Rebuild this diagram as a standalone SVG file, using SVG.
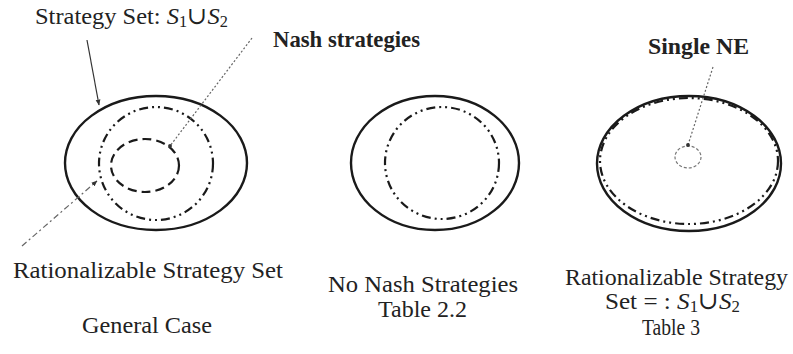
<svg xmlns="http://www.w3.org/2000/svg" width="793" height="354" viewBox="0 0 793 354">
<style>
.t{font-family:"Liberation Serif","Times New Roman","DejaVu Serif",serif;font-size:24px;fill:#222}
.b{font-weight:bold}
.i{font-style:italic}
.outer{fill:none;stroke:#1a1a1a;stroke-width:2.4}
.ddot{fill:none;stroke:#1a1a1a;stroke-width:2.2;stroke-dasharray:9 4 2 4 2 4}
.dash{fill:none;stroke:#1a1a1a;stroke-width:2.2;stroke-dasharray:9 5}
</style>
<defs>
<marker id="ah" viewBox="0 0 10 10" refX="9" refY="5" markerWidth="5" markerHeight="5" orient="auto">
<path d="M0,1 L10,5 L0,9 z" fill="#333"/>
</marker>
<marker id="dot" viewBox="0 0 10 10" refX="5" refY="5" markerWidth="4" markerHeight="4">
<circle cx="5" cy="5" r="4" fill="#333"/>
</marker>
</defs>

<g id="general-case">
<ellipse class="outer" cx="156" cy="163" rx="91" ry="67" stroke-width="2.8"/>
<ellipse class="ddot" cx="156" cy="163.5" rx="57" ry="56.5"/>
<ellipse class="dash" cx="145" cy="165.5" rx="34" ry="26.5"/>
</g>

<g id="no-nash">
<ellipse class="outer" cx="435" cy="163" rx="84" ry="67"/>
<ellipse class="ddot" cx="442" cy="163" rx="57" ry="56"/>
</g>

<g id="single-ne">
<ellipse class="outer" cx="689" cy="163.5" rx="92" ry="67.5"/>
<ellipse class="ddot" cx="689" cy="161" rx="89" ry="63"/>
<ellipse cx="688" cy="157" rx="13" ry="11" fill="none" stroke="#777" stroke-width="1.2" stroke-dasharray="3 2"/>
</g>

<g id="connectors">
<line x1="87" y1="40" x2="99" y2="105" stroke="#333" stroke-width="1.2" marker-end="url(#ah)"/>
<line x1="252" y1="38" x2="170" y2="146" stroke="#666" stroke-width="1.2" stroke-dasharray="2 2" marker-end="url(#dot)"/>
<line x1="22" y1="246" x2="97" y2="181" stroke="#666" stroke-width="1.2" stroke-dasharray="6 3 2 3" marker-end="url(#ah)"/>
<line x1="713" y1="67" x2="688" y2="145" stroke="#666" stroke-width="1.2" stroke-dasharray="2 2" marker-end="url(#dot)"/>
</g>

<g id="labels">
<text class="t" x="35" y="24" textLength="193" lengthAdjust="spacingAndGlyphs">Strategy Set: <tspan class="i">S</tspan><tspan font-size="16" dy="3">1</tspan><tspan dy="-3">∪</tspan><tspan class="i">S</tspan><tspan font-size="16" dy="3">2</tspan></text>
<text class="t b" x="273" y="47" textLength="147" lengthAdjust="spacingAndGlyphs">Nash strategies</text>
<text class="t b" x="648" y="54" textLength="101" lengthAdjust="spacingAndGlyphs">Single NE</text>
<text class="t" x="13" y="278" textLength="270" lengthAdjust="spacingAndGlyphs">Rationalizable Strategy Set</text>
<text class="t" x="82" y="333" textLength="130" lengthAdjust="spacingAndGlyphs">General Case</text>
<text class="t" x="328" y="292" textLength="190" lengthAdjust="spacingAndGlyphs">No Nash Strategies</text>
<text class="t" x="378" y="317" textLength="89" lengthAdjust="spacingAndGlyphs">Table 2.2</text>
<text class="t" x="565" y="285" textLength="223" lengthAdjust="spacingAndGlyphs">Rationalizable Strategy</text>
<text class="t" x="605" y="309" textLength="135" lengthAdjust="spacingAndGlyphs">Set = : <tspan class="i">S</tspan><tspan font-size="16" dy="3">1</tspan><tspan dy="-3">∪</tspan><tspan class="i">S</tspan><tspan font-size="16" dy="3">2</tspan></text>
<text class="t" x="642" y="335" textLength="58" lengthAdjust="spacingAndGlyphs">Table 3</text>
</g>
</svg>
